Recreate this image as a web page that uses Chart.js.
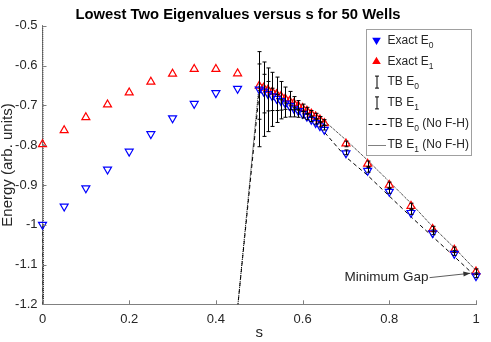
<!DOCTYPE html>
<html>
<head>
<meta charset="utf-8">
<script src="https://cdn.jsdelivr.net/npm/chart.js@4.4.1/dist/chart.umd.min.js"></script>
<style>
    html, body { margin: 0; padding: 0; background: #fff; }
    canvas { display: block; }
</style>
</head>
<body>
<canvas id="eigen-chart" width="491" height="342"></canvas>
<script>
(function () {
    "use strict";

    // s grid of the exact diagonalisation (coarse, then dense near the gap)
    var sExact = [0, 0.05, 0.1, 0.15, 0.2, 0.25, 0.3, 0.35, 0.4, 0.45,
        0.5, 0.51, 0.52, 0.53, 0.54, 0.55, 0.56, 0.57, 0.58, 0.59, 0.6, 0.61, 0.62, 0.63, 0.64, 0.65,
        0.7, 0.75, 0.8, 0.85, 0.9, 0.95, 1];

    var exactE0 = [-1.000, -0.954, -0.908, -0.861, -0.816, -0.772, -0.732, -0.696, -0.669, -0.658,
        -0.660, -0.665, -0.671, -0.677, -0.683, -0.689, -0.695, -0.701, -0.708, -0.714, -0.721, -0.728, -0.736, -0.744, -0.752, -0.761,
        -0.820, -0.864, -0.917, -0.970, -1.021, -1.073, -1.129];

    var exactE1 = [-0.798, -0.763, -0.730, -0.698, -0.668, -0.641, -0.621, -0.609, -0.609, -0.620,
        -0.651, -0.656, -0.661, -0.666, -0.672, -0.677, -0.683, -0.689, -0.695, -0.701, -0.707, -0.714, -0.721, -0.728, -0.736, -0.745,
        -0.796, -0.847, -0.900, -0.953, -1.011, -1.063, -1.118];

    // tight binding without F-H (far off scale below for 0.05..0.40)
    var noFhE0 = [-1.000, -20, -20, -20, -20, -20, -20, -20, -20, -1.21,
        -0.666, -0.671, -0.677, -0.683, -0.689, -0.695, -0.701, -0.707, -0.714, -0.720, -0.727, -0.734, -0.742, -0.750, -0.758, -0.767,
        -0.830, -0.876, -0.928, -0.980, -1.030, -1.080, -1.131];

    var noFhE1 = [-0.30, -20, -20, -20, -20, -20, -20, -20, -20, -1.21,
        -0.645, -0.650, -0.655, -0.660, -0.666, -0.671, -0.677, -0.683, -0.689, -0.695, -0.701, -0.708, -0.715, -0.722, -0.730, -0.739,
        -0.787, -0.838, -0.892, -0.946, -1.005, -1.058, -1.115];

    // tight binding with error bars
    var sTB = [0.5, 0.51, 0.52, 0.53, 0.54, 0.55, 0.56, 0.57, 0.58, 0.59, 0.6, 0.61, 0.62, 0.63, 0.64, 0.65,
        0.7, 0.75, 0.8, 0.85, 0.9, 0.95, 1];
    var tbE0 = [-0.700, -0.700, -0.703, -0.705, -0.708, -0.710, -0.712, -0.714, -0.717, -0.720, -0.724, -0.729, -0.735, -0.741, -0.748, -0.756,
        -0.818, -0.862, -0.915, -0.968, -1.019, -1.071, -1.127];
    var tbE0Err = [0.104, 0.078, 0.063, 0.048, 0.035, 0.024, 0.018, 0.015, 0.012, 0.010, 0.008, 0.007, 0.006, 0.006, 0.006, 0.006,
        0.006, 0.006, 0.006, 0.006, 0.006, 0.006, 0.006];
    var tbE1 = [-0.650, -0.655, -0.660, -0.665, -0.671, -0.676, -0.682, -0.688, -0.694, -0.700, -0.706, -0.713, -0.720, -0.727, -0.735, -0.743,
        -0.797, -0.847, -0.900, -0.953, -1.011, -1.063, -1.118];
    var tbE1Err = [0.085, 0.064, 0.054, 0.048, 0.042, 0.036, 0.028, 0.023, 0.016, 0.012, 0.009, 0.008, 0.007, 0.007, 0.007, 0.007,
        0.007, 0.007, 0.007, 0.007, 0.007, 0.007, 0.007];

    var xTicks = [0, 0.2, 0.4, 0.6, 0.8, 1];
    var yTicks = [-1.2, -1.1, -1, -0.9, -0.8, -0.7, -0.6, -0.5];

    var FONT = "'Liberation Sans', Arial, Helvetica, sans-serif";
    var AXIS = '#808080';
    var TEXT = '#262626';

    function points(xs, ys) {
        return xs.map(function (x, i) { return { x: x, y: ys[i] }; });
    }

    // MATLAB style labels: -1 not -1.0
    function shortLabel(v) {
        return String(Math.round(v * 100) / 100);
    }

    // MATLAB style ticks pointing into the plot
    var inwardTicks = {
        id: 'inwardTicks',
        afterDatasetsDraw: function (chart) {
            var ctx = chart.ctx, a = chart.chartArea;
            var x = chart.scales.x, y = chart.scales.y;
            ctx.save();
            ctx.strokeStyle = AXIS;
            ctx.lineWidth = 1;
            ctx.beginPath();
            xTicks.forEach(function (v) {
                var px = Math.round(x.getPixelForValue(v)) + 0.5;
                ctx.moveTo(px, a.bottom);
                ctx.lineTo(px, a.bottom - 4);
            });
            yTicks.forEach(function (v) {
                var py = Math.round(y.getPixelForValue(v)) + 0.5;
                ctx.moveTo(a.left, py);
                ctx.lineTo(a.left + 4, py);
            });
            ctx.stroke();
            ctx.restore();
        }
    };

    // Error bars
    var errorBars = {
        id: 'errorBars',
        afterDatasetsDraw: function (chart) {
            var ctx = chart.ctx, x = chart.scales.x, y = chart.scales.y;
            ctx.save();
            ctx.strokeStyle = '#000';
            ctx.lineWidth = 1;
            [[tbE0, tbE0Err], [tbE1, tbE1Err]].forEach(function (set) {
                sTB.forEach(function (s, i) {
                    var px = Math.round(x.getPixelForValue(s)) + 0.5;
                    var hi = y.getPixelForValue(set[0][i] + set[1][i]);
                    var lo = y.getPixelForValue(set[0][i] - set[1][i]);
                    ctx.beginPath();
                    ctx.moveTo(px, hi); ctx.lineTo(px, lo);
                    ctx.moveTo(px - 2, hi); ctx.lineTo(px + 2, hi);
                    ctx.moveTo(px - 2, lo); ctx.lineTo(px + 2, lo);
                    ctx.stroke();
                });
            });
            ctx.restore();
        }
    };

    // Annotation with arrow
    var gapNote = {
        id: 'gapNote',
        afterDraw: function (chart) {
            var ctx = chart.ctx, x = chart.scales.x, y = chart.scales.y;
            var tx = x.getPixelForValue(0.893), ty = y.getPixelForValue(-1.133);
            var hx = x.getPixelForValue(0.987), hy = y.getPixelForValue(-1.122);
            ctx.save();
            ctx.font = '13.5px ' + FONT;
            ctx.fillStyle = TEXT;
            ctx.textAlign = 'right';
            ctx.textBaseline = 'middle';
            ctx.fillText('Minimum Gap', tx - 1, ty);
            ctx.strokeStyle = '#333';
            ctx.lineWidth = 0.8;
            ctx.beginPath();
            ctx.moveTo(tx, ty);
            ctx.lineTo(hx, hy);
            ctx.stroke();
            var ang = Math.atan2(hy - ty, hx - tx);
            ctx.fillStyle = '#333';
            ctx.beginPath();
            ctx.moveTo(hx, hy);
            ctx.lineTo(hx - 7 * Math.cos(ang) + 2.5 * Math.sin(ang), hy - 7 * Math.sin(ang) - 2.5 * Math.cos(ang));
            ctx.lineTo(hx - 7 * Math.cos(ang) - 2.5 * Math.sin(ang), hy - 7 * Math.sin(ang) + 2.5 * Math.cos(ang));
            ctx.closePath();
            ctx.fill();
            ctx.restore();
        }
    };

    // Boxed legend in the upper right corner of the axes
    var boxLegend = {
        id: 'boxLegend',
        afterDraw: function (chart) {
            var ctx = chart.ctx, a = chart.chartArea;
            var entries = [
                { name: 'Exact E', sub: '0', tail: '', icon: 'down' },
                { name: 'Exact E', sub: '1', tail: '', icon: 'up' },
                { name: 'TB E', sub: '0', tail: '', icon: 'bar' },
                { name: 'TB E', sub: '1', tail: '', icon: 'bar' },
                { name: 'TB E', sub: '0', tail: ' (No F-H)', icon: 'dash' },
                { name: 'TB E', sub: '1', tail: ' (No F-H)', icon: 'dot' }
            ];
            var w = 105, h = 126;
            var left = Math.round(a.right - 5 - w) + 0.5, top = Math.round(a.top + 3) + 0.5;
            ctx.save();
            ctx.fillStyle = '#fff';
            ctx.fillRect(left, top, w, h);
            ctx.strokeStyle = '#a0a0a0';
            ctx.lineWidth = 1;
            ctx.strokeRect(left, top, w, h);
            entries.forEach(function (e, i) {
                var cy = top + 11 + i * 20.8;
                var ix = left + 10;
                ctx.save();
                ctx.lineWidth = 1;
                if (e.icon === 'down' || e.icon === 'up') {
                    ctx.strokeStyle = e.icon === 'down' ? '#0000ff' : '#ff0000';
                    ctx.fillStyle = ctx.strokeStyle;
                    ctx.lineWidth = 1.5;
                    var d = e.icon === 'down' ? -1 : 1;
                    ctx.beginPath();
                    ctx.moveTo(ix, cy - 3 * d);
                    ctx.lineTo(ix + 3, cy + 2 * d);
                    ctx.lineTo(ix - 3, cy + 2 * d);
                    ctx.closePath();
                    ctx.fill();
                    ctx.stroke();
                } else if (e.icon === 'bar') {
                    ctx.strokeStyle = '#000';
                    ctx.beginPath();
                    ctx.moveTo(ix + 0.5, cy - 6); ctx.lineTo(ix + 0.5, cy + 6);
                    ctx.moveTo(ix - 1.5, cy - 6); ctx.lineTo(ix + 2.5, cy - 6);
                    ctx.moveTo(ix - 1.5, cy + 6); ctx.lineTo(ix + 2.5, cy + 6);
                    ctx.stroke();
                } else {
                    ctx.strokeStyle = '#000';
                    ctx.setLineDash(e.icon === 'dash' ? [4, 3] : [1, 1]);
                    ctx.beginPath();
                    ctx.moveTo(left + 2, Math.round(cy) + 0.5);
                    ctx.lineTo(left + 20, Math.round(cy) + 0.5);
                    ctx.stroke();
                }
                ctx.restore();
                var tx = left + 21;
                ctx.fillStyle = TEXT;
                ctx.textBaseline = 'middle';
                ctx.textAlign = 'left';
                ctx.font = '12px ' + FONT;
                ctx.fillText(e.name, tx, cy);
                tx += ctx.measureText(e.name).width;
                ctx.font = '8.5px ' + FONT;
                ctx.fillText(e.sub, tx, cy + 5);
                tx += ctx.measureText(e.sub).width;
                if (e.tail) {
                    ctx.font = '12px ' + FONT;
                    ctx.fillText(e.tail, tx, cy);
                }
            });
            ctx.restore();
        }
    };

    var ctx = document.getElementById('eigen-chart').getContext('2d');
    var eigenChart = new Chart(ctx, {
        type: 'scatter',
        data: {
            datasets: [{
                label: 'Exact E0',
                data: points(sExact, exactE0),
                pointStyle: 'triangle',
                rotation: 180,
                pointRadius: 4.6,
                pointBorderWidth: 1.2,
                borderColor: '#0000ff',
                backgroundColor: 'rgba(0,0,0,0)',
                clip: false
            }, {
                label: 'Exact E1',
                data: points(sExact, exactE1),
                pointStyle: 'triangle',
                pointRadius: 4.6,
                pointBorderWidth: 1.2,
                borderColor: '#ff0000',
                backgroundColor: 'rgba(0,0,0,0)',
                clip: false
            }, {
                label: 'TB E0 (No F-H)',
                data: points(sExact, noFhE0),
                showLine: true,
                borderColor: '#000',
                borderWidth: 1,
                borderDash: [4, 3],
                pointRadius: 0,
                clip: 0
            }, {
                label: 'TB E1 (No F-H)',
                data: points(sExact, noFhE1),
                showLine: true,
                borderColor: '#000',
                borderWidth: 1,
                borderDash: [1, 1],
                pointRadius: 0,
                clip: 0
            }]
        },
        options: {
            responsive: false,
            animation: false,
            devicePixelRatio: 1,
            events: [],
            layout: { padding: { left: 0, right: 15, top: 0, bottom: 0 } },
            plugins: {
                legend: { display: false },
                tooltip: { enabled: false },
                title: {
                    display: true,
                    text: 'Lowest Two Eigenvalues versus s for 50 Wells',
                    color: '#000',
                    font: { family: FONT, size: 14.8, weight: 'bold' },
                    padding: { top: 6, bottom: 2 }
                }
            },
            scales: {
                x: {
                    type: 'linear',
                    min: 0,
                    max: 1,
                    afterFit: function (scale) { scale.height = 37.7; },
                    afterBuildTicks: function (scale) {
                        scale.ticks = xTicks.map(function (v) { return { value: v }; });
                    },
                    ticks: {
                        color: TEXT,
                        padding: 7,
                        font: { family: FONT, size: 13 },
                        callback: shortLabel
                    },
                    grid: { display: false, drawTicks: false },
                    border: { display: true, color: AXIS, width: 1 },
                    title: {
                        display: true,
                        text: 's',
                        color: TEXT,
                        font: { family: FONT, size: 15, lineHeight: 1.2 },
                        padding: { top: 0, bottom: 0 }
                    }
                },
                y: {
                    type: 'linear',
                    min: -1.2,
                    max: -0.5,
                    afterFit: function (scale) { scale.width = 42.5; },
                    afterBuildTicks: function (scale) {
                        scale.ticks = yTicks.map(function (v) { return { value: v }; });
                    },
                    ticks: {
                        color: TEXT,
                        padding: 5,
                        font: { family: FONT, size: 13 },
                        callback: shortLabel
                    },
                    grid: { display: false, drawTicks: false },
                    border: { display: true, color: AXIS, width: 1 },
                    title: {
                        display: true,
                        text: 'Energy (arb. units)',
                        color: TEXT,
                        font: { family: FONT, size: 15, lineHeight: 1 },
                        padding: { top: 0, bottom: 0 }
                    }
                }
            }
        },
        plugins: [inwardTicks, errorBars, gapNote, boxLegend]
    });
})();
</script>
</body>
</html>
